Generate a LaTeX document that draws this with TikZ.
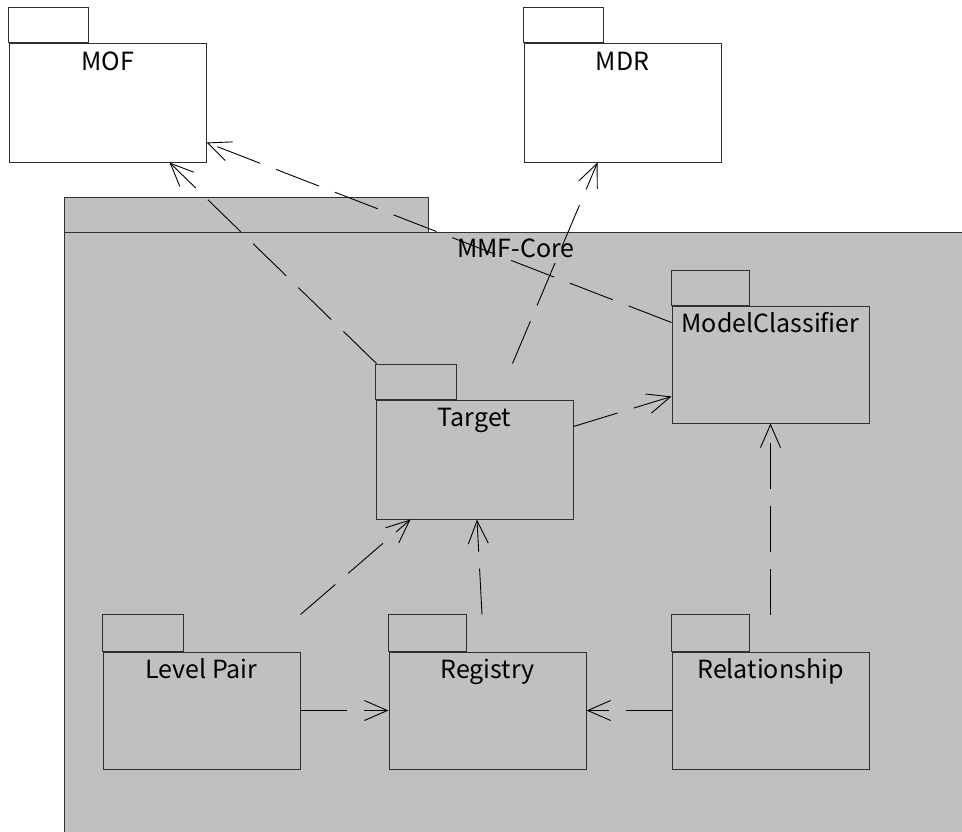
\documentclass[tikz,border=0pt]{standalone}
\usepackage{fontspec}
\setmainfont{Noto Sans CJK JP}
\usetikzlibrary{arrows.meta,calc}
\definecolor{pkggray}{HTML}{C0C0C0}
\definecolor{pkgline}{HTML}{303030}

\tikzset{
  pkgbody/.style={draw=pkgline, line width=1pt, rectangle, inner sep=0pt, minimum width=197pt},
  pkgtab/.style={draw=pkgline, line width=1pt},
  pkgname/.style={anchor=base, inner sep=0pt, font=\fontsize{25}{30}\selectfont},
  dep/.style={draw=black, line width=0.9pt, dash pattern=on 46pt off 17pt,
    -{Straight Barb[length=23pt,width=20pt]}},
}

\begin{document}
\begin{tikzpicture}[x=1pt,y=-1pt]
\useasboundingbox (0,0) rectangle (962,831);
\clip (0,0) rectangle (962,831);
\fill[white] (0,0) rectangle (962,831);

% outer package MMF-Core
\draw[pkgtab, fill=pkggray] (64,197) rectangle (428,232);
\node[pkgbody, fill=pkggray, minimum width=904pt, minimum height=668pt] (core) at (516,566) {};
\node[pkgname] (coretxt) at ($(core.north)+(0,26)$) {MMF-Core};

% external packages
\node[pkgbody, fill=white, minimum height=119pt] (mof) at (107.5,102.5) {};
\draw[pkgtab, fill=white] (mof.north west) rectangle ++(80,-35);
\node[pkgname] (moftxt) at ($(mof.north)+(0,28)$) {MOF};

\node[pkgbody, fill=white, minimum height=119pt] (mdr) at (622.5,102.5) {};
\draw[pkgtab, fill=white] (mdr.north west) rectangle ++(80,-35);
\node[pkgname] (mdrtxt) at ($(mdr.north)+(0,28)$) {MDR};

% inner packages
\node[pkgbody, minimum height=117pt] (mc) at (770.5,364.5) {};
\draw[pkgtab] (mc.north west) rectangle ++(78,-35);
\node[pkgname] (mctxt) at ($(mc.north)+(0,27)$) {ModelClassifier};

\node[pkgbody, minimum height=119pt] (target) at (474.5,459.5) {};
\draw[pkgtab] (target.north west) rectangle ++(81,-35);
\node[pkgname] (targettxt) at ($(target.north)+(0,27)$) {Target};

\node[pkgbody, minimum height=117pt] (lp) at (201.5,710.5) {};
\draw[pkgtab] (lp.north west) rectangle ++(81,-37);
\node[pkgname] (lptxt) at ($(lp.north)+(0,27)$) {Level Pair};

\node[pkgbody, minimum height=117pt] (reg) at (487.5,710.5) {};
\draw[pkgtab] (reg.north west) rectangle ++(78,-37);
\node[pkgname] (regtxt) at ($(reg.north)+(0,27)$) {Registry};

\node[pkgbody, minimum height=117pt] (rel) at (770.5,710.5) {};
\draw[pkgtab] (rel.north west) rectangle ++(78,-37);
\node[pkgname] (reltxt) at ($(rel.north)+(0,27)$) {Relationship};

% dependencies
\draw[dep] ($(target.north west)+(1,-36)$) -- ($(mof.south west)+(161,0)$);
\draw[dep] ($(mc.north west)+(0,17)$) -- ($(mof.south east)+(0,-20)$);
\draw[dep] ($(target.north west)+(137,-36)$) -- ($(mdr.south west)+(74,0)$);
\draw[dep] ($(target.north east)+(0,27)$) -- ($(mc.south west)+(0,-27)$);
\draw[dep] ($(rel.north)+(0,-37)$) -- (mc.south);
\draw[dep] ($(lp.north east)+(0,-37)$) -- ($(target.south west)+(35,0)$);
\draw[dep] ($(reg.north)+(-5.5,-37)$) -- ($(target.south)+(2.5,0)$);
\draw[dep] (lp.east) -- (reg.west);
\draw[dep] (rel.west) -- (reg.east);
\end{tikzpicture}
\end{document}
